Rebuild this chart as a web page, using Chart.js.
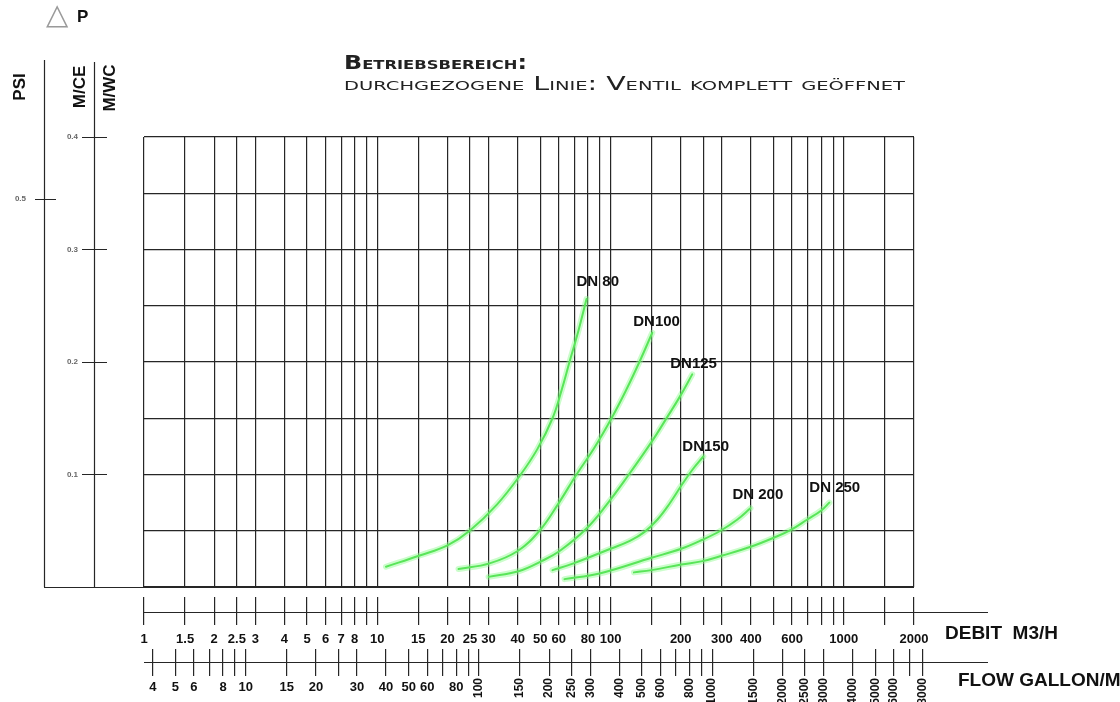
<!DOCTYPE html>
<html>
<head>
<meta charset="utf-8">
<script src="https://cdn.jsdelivr.net/npm/chart.js@4.4.0/dist/chart.umd.min.js"></script>
<style>
  html, body { margin: 0; padding: 0; background: #fff; }
  #wrap { width: 1120px; height: 702px; position: relative; }
</style>
</head>
<body>
<div id="wrap"><canvas id="chart"></canvas></div>
<script>
// --- Axis values ---
const debitTicks = [1, 1.5, 2, 2.5, 3, 4, 5, 6, 7, 8, 9, 10, 15, 20, 25, 30, 40, 50, 60, 70, 80, 90,
  100, 150, 200, 250, 300, 400, 500, 600, 700, 800, 900, 1000, 1500, 2000];
const debitLabels = [1, 1.5, 2, 2.5, 3, 4, 5, 6, 7, 8, 10, 15, 20, 25, 30, 40, 50, 60, 80, 100,
  200, 300, 400, 600, 1000, 2000];
const gallonTicksLow = [4, 5, 6, 7, 8, 9, 10, 15, 20, 25, 30, 40, 50, 60, 70, 80, 90];
const gallonLabelsLow = [4, 5, 6, 8, 10, 15, 20, 30, 40, 50, 60, 80];
const gallonTicksHigh = [100, 150, 200, 250, 300, 400, 500, 600, 700, 800, 900, 1000, 1500, 2000,
  2500, 3000, 4000, 5000, 6000, 7000, 8000];
const gallonLabelsHigh = [100, 150, 200, 250, 300, 400, 500, 600, 800, 1000, 1500, 2000, 2500,
  3000, 4000, 5000, 6000, 8000];
const headGridTicks = [0, 0.05, 0.1, 0.15, 0.2, 0.25, 0.3, 0.35, 0.4];
const headLabelTicks = [0.1, 0.2, 0.3, 0.4];
const psiTicks = [0.5];

// --- Curves: flow (m3/h) and head loss (m) ---
const seriesNames = ['DN 80', 'DN100', 'DN125', 'DN150', 'DN 200', 'DN 250'];
const dn80Flow = [10.9, 15.2, 20, 24.9, 32.5, 41.2, 48.7, 56.4, 61.7, 66.7, 72.9, 78.9];
const dn80Head = [0.018, 0.028, 0.037, 0.050, 0.073, 0.100, 0.123, 0.150, 0.175, 0.200, 0.228, 0.256];
const dn100Flow = [22.3, 30.3, 40, 49.6, 59.3, 71.5, 85.4, 101, 116, 133, 151];
const dn100Head = [0.016, 0.021, 0.032, 0.050, 0.073, 0.100, 0.124, 0.150, 0.174, 0.200, 0.226];
const dn125Flow = [30, 40.3, 50.6, 60.5, 78.9, 96.1, 118, 150, 175, 198, 224];
const dn125Head = [0.009, 0.014, 0.023, 0.032, 0.052, 0.073, 0.098, 0.129, 0.151, 0.169, 0.189];
const dn150Flow = [56.4, 69.4, 100, 121, 140, 159, 179, 201, 224, 250];
const dn150Head = [0.015, 0.021, 0.034, 0.041, 0.049, 0.060, 0.074, 0.090, 0.104, 0.116];
const dn200Flow = [63.5, 89.7, 150, 201, 248, 296, 350, 398];
const dn200Head = [0.007, 0.012, 0.026, 0.034, 0.042, 0.050, 0.060, 0.070];
const dn250Flow = [126, 150, 201, 248, 302, 402, 504, 596, 698, 801, 867];
const dn250Head = [0.013, 0.015, 0.020, 0.023, 0.028, 0.036, 0.044, 0.051, 0.060, 0.068, 0.075];

// --- Layout / style ---
const X_MIN = 1, X_MAX = 2000, Y_MIN = 0, Y_MAX = 0.4, PSI_MAX = 0.58;
const GALLON_PER_M3H = 3.666; // imperial gallons per minute for 1 m3/h
const PAD = { left: 144, top: 137, right: 206, bottom: 115 };
const PLOT_W = 1120 - PAD.left - PAD.right;
const PLOT_H = 702 - PAD.top - PAD.bottom;
const belowPlot = px => Y_MIN - px * (Y_MAX - Y_MIN) / PLOT_H;
const leftOfPlot = px => X_MIN * Math.pow(X_MAX / X_MIN, -px / PLOT_W);

const LINE = '#262626';
const GREEN = '#30d430';
const GLOW = 'rgba(140, 250, 140, 0.45)';
const FONT = "'Liberation Sans', Arial, sans-serif";
const labelOffsets = [[-10, -17], [-19, -11], [-22, -11], [-21, -10], [-18, -13], [-20, -15]];

const series = [
  [dn80Flow, dn80Head], [dn100Flow, dn100Head], [dn125Flow, dn125Head],
  [dn150Flow, dn150Head], [dn200Flow, dn200Head], [dn250Flow, dn250Head]
];
const toPoints = (flow, head) => flow.map((q, i) => ({ x: q, y: head[i] }));

const datasets = [];
series.forEach(([flow, head], i) => {
  datasets.push({
    label: seriesNames[i] + ' glow', data: toPoints(flow, head),
    borderColor: GLOW, borderWidth: 6, pointRadius: 0, fill: false,
    tension: 0.4, borderCapStyle: 'round', xAxisID: 'x', yAxisID: 'y'
  });
  datasets.push({
    label: seriesNames[i], data: toPoints(flow, head),
    borderColor: GREEN, borderWidth: 2, pointRadius: 0, fill: false,
    tension: 0.4, borderCapStyle: 'round', xAxisID: 'x', yAxisID: 'y'
  });
});

const setTicks = list => scale => { scale.ticks = list.map(v => ({ value: v })); };
const labelIf = list => v => (list.includes(v) ? String(v) : '');

// --- Extra drawing: axis lines, titles, curve names ---
function vText(ctx, text, cx, cy) {
  ctx.save();
  ctx.translate(cx, cy);
  ctx.rotate(-Math.PI / 2);
  ctx.textAlign = 'center';
  ctx.textBaseline = 'middle';
  ctx.fillText(text, 0, 0);
  ctx.restore();
}
function fitText(ctx, text, x, y, width) {
  const w = ctx.measureText(text).width;
  ctx.save();
  ctx.translate(x, y);
  ctx.scale(width / w, 1);
  ctx.fillText(text, 0, 0);
  ctx.restore();
}
function seg(ctx, x1, y1, x2, y2) {
  ctx.beginPath();
  ctx.moveTo(x1, y1);
  ctx.lineTo(x2, y2);
  ctx.stroke();
}

const decor = {
  id: 'decor',
  beforeDatasetsDraw(chart) {
    const { ctx, chartArea: ca } = chart;
    ctx.save();
    ctx.strokeStyle = LINE;
    ctx.lineWidth = 1.2;
    seg(ctx, ca.left - 99.5, 60, ca.left - 99.5, ca.bottom);   // PSI axis
    seg(ctx, ca.left - 49.5, 62, ca.left - 49.5, ca.bottom);   // M/CE axis
    seg(ctx, ca.left - 100, ca.bottom + 0.5, ca.right, ca.bottom + 0.5);
    seg(ctx, ca.left, ca.bottom + 25.5, ca.right + 74, ca.bottom + 25.5);  // debit
    seg(ctx, ca.left, ca.bottom + 75.5, ca.right + 74, ca.bottom + 75.5);  // gallons
    ctx.restore();
  },
  afterDraw(chart) {
    const { ctx, chartArea: ca } = chart;
    ctx.save();
    ctx.fillStyle = '#111';

    // curve names
    ctx.font = 'bold 15px ' + FONT;
    ctx.textAlign = 'left';
    ctx.textBaseline = 'middle';
    seriesNames.forEach((name, i) => {
      const meta = chart.getDatasetMeta(i * 2 + 1);
      const last = meta.data[meta.data.length - 1];
      ctx.fillText(name, last.x + labelOffsets[i][0], last.y + labelOffsets[i][1]);
    });

    // axis titles
    ctx.font = 'bold 17px ' + FONT;
    vText(ctx, 'PSI', 20, 87);
    vText(ctx, 'M/CE', 80, 87);
    vText(ctx, 'M/WC', 110, 88);
    ctx.font = 'bold 19px ' + FONT;
    ctx.textAlign = 'left';
    ctx.fillText('DEBIT  M3/H', ca.right + 31, ca.bottom + 47);
    ctx.fillText('FLOW GALLON/M', ca.right + 44, ca.bottom + 94);

    // delta P
    ctx.fillStyle = '#9a9a9a';
    ctx.font = '29px "DejaVu Sans"';
    ctx.fillText('\u25B3', 46, 16);
    ctx.fillStyle = '#111';
    ctx.font = 'bold 17px ' + FONT;
    ctx.fillText('P', 77, 17);

    // operating range note
    ctx.textBaseline = 'alphabetic';
    ctx.fillStyle = '#222';
    ctx.font = 'small-caps bold 19px "DejaVu Sans"';
    fitText(ctx, 'Betriebsbereich:', 344, 69, 183);
    ctx.font = 'small-caps 19px "DejaVu Sans"';
    fitText(ctx, 'durchgezogene Linie: Ventil komplett geöffnet', 344, 90, 561);
    ctx.restore();
  }
};

const tickFont = { family: FONT, size: 13, weight: 'bold' };
const smallFont = { family: FONT, size: 8, weight: 'bold' };

new Chart(document.getElementById('chart'), {
  type: 'line',
  data: { datasets },
  options: {
    responsive: true,
    maintainAspectRatio: false,
    animation: false,
    layout: { padding: PAD },
    plugins: { legend: { display: false }, tooltip: { enabled: false } },
    scales: {
      x: {
        type: 'logarithmic', min: X_MIN, max: X_MAX, position: 'bottom',
        afterBuildTicks: setTicks(debitTicks),
        ticks: { display: false },
        grid: { color: LINE, lineWidth: 1.2, drawTicks: false },
        border: { display: false }
      },
      y: {
        type: 'linear', min: Y_MIN, max: Y_MAX, position: 'left',
        afterBuildTicks: setTicks(headGridTicks),
        ticks: { display: false },
        grid: { color: LINE, lineWidth: 1.2, drawTicks: false },
        border: { display: false }
      },
      debit: {
        axis: 'x', type: 'logarithmic', min: X_MIN, max: X_MAX,
        position: { y: belowPlot(10) },
        afterBuildTicks: setTicks(debitTicks),
        ticks: { autoSkip: false, maxRotation: 0, minRotation: 0, padding: 7,
          font: tickFont, color: '#111', callback: labelIf(debitLabels) },
        grid: { drawOnChartArea: false, tickLength: 28, color: LINE, lineWidth: 1.2 },
        border: { display: false }
      },
      gallonLow: {
        axis: 'x', type: 'logarithmic', min: X_MIN * GALLON_PER_M3H, max: X_MAX * GALLON_PER_M3H,
        position: { y: belowPlot(62) },
        afterBuildTicks: setTicks(gallonTicksLow),
        ticks: { autoSkip: false, maxRotation: 0, minRotation: 0, padding: 4,
          font: tickFont, color: '#111', callback: labelIf(gallonLabelsLow) },
        grid: { drawOnChartArea: false, tickLength: 27, color: LINE, lineWidth: 1.2 },
        border: { display: false }
      },
      gallonHigh: {
        axis: 'x', type: 'logarithmic', min: X_MIN * GALLON_PER_M3H, max: X_MAX * GALLON_PER_M3H,
        position: { y: belowPlot(62) },
        afterBuildTicks: setTicks(gallonTicksHigh),
        ticks: { autoSkip: false, maxRotation: 90, minRotation: 90, padding: 2,
          font: { family: FONT, size: 12, weight: 'bold' }, color: '#111', callback: labelIf(gallonLabelsHigh) },
        grid: { drawOnChartArea: false, tickLength: 27, color: LINE, lineWidth: 1.2 },
        border: { display: false }
      },
      headMarks: {
        axis: 'y', type: 'linear', min: Y_MIN, max: Y_MAX,
        position: { x: leftOfPlot(37) },
        afterBuildTicks: setTicks(headLabelTicks),
        ticks: { display: false },
        grid: { drawOnChartArea: false, tickLength: 25, color: LINE },
        border: { display: false }
      },
      headLabels: {
        axis: 'y', type: 'linear', min: Y_MIN, max: Y_MAX,
        position: { x: leftOfPlot(66) },
        afterBuildTicks: setTicks(headLabelTicks),
        ticks: { font: smallFont, color: '#666', callback: v => v.toFixed(1) },
        grid: { display: false },
        border: { display: false }
      },
      psiMarks: {
        axis: 'y', type: 'linear', min: 0, max: PSI_MAX,
        position: { x: leftOfPlot(88) },
        afterBuildTicks: setTicks(psiTicks),
        ticks: { display: false },
        grid: { drawOnChartArea: false, tickLength: 21, color: LINE },
        border: { display: false }
      },
      psiLabels: {
        axis: 'y', type: 'linear', min: 0, max: PSI_MAX,
        position: { x: leftOfPlot(118) },
        afterBuildTicks: setTicks(psiTicks),
        ticks: { font: smallFont, color: '#666', callback: v => v.toFixed(1) },
        grid: { display: false },
        border: { display: false }
      }
    }
  },
  plugins: [decor]
});
</script>
</body>
</html>
